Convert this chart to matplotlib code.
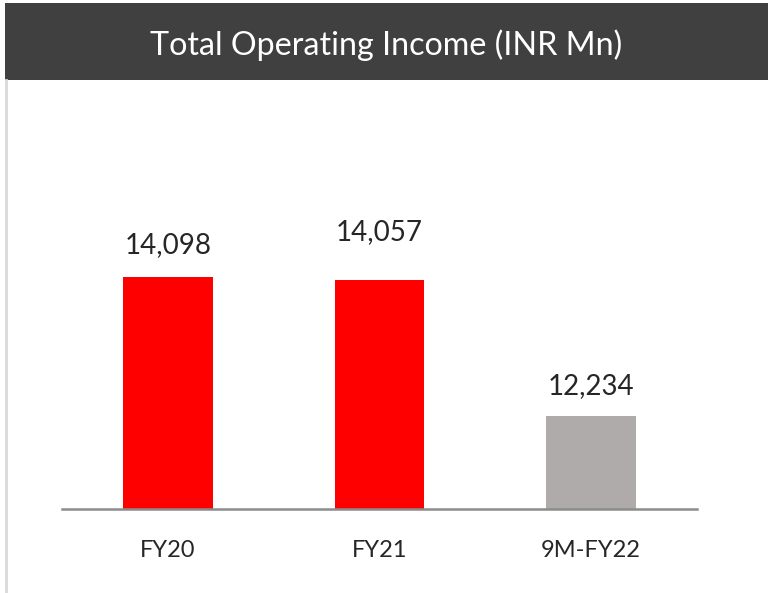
import matplotlib
matplotlib.use("Agg")
import matplotlib.pyplot as plt
from matplotlib.patches import Rectangle
from matplotlib.lines import Line2D

categories = ["FY20", "FY21", "9M-FY22"]
values = [14098, 14057, 12234]
value_labels = ["14,098", "14,057", "12,234"]
title = "Total Operating Income (INR Mn)"

colors = ["#FF0000", "#FF0000", "#AFABAB"]
label_offsets = [31, 48, 30]  # px above bar top

W, H = 768, 593
fig = plt.figure(figsize=(W / 100, H / 100), dpi=100)
plt.rcParams['font.family'] = ['Lato', 'DejaVu Sans']

# title bar
fig.patches.append(Rectangle((5 / W, 1 - 80 / H), 1 - 5 / W, 77 / H,
                             transform=fig.transFigure, facecolor="#404040",
                             edgecolor="none", zorder=0))
fig.text((5 + W) / 2 / W, 1 - 45 / H, title, color="white", fontsize=23.2,
         ha="center", va="center")
# left border
fig.lines.append(Line2D([6 / W, 6 / W], [0, 1 - 80 / H], transform=fig.transFigure,
                        color="#D9D9D9", lw=2))

ax = fig.add_axes([62 / W, 1 - 509 / H, (697 - 62) / W, (509 - 100) / H])
x = range(len(categories))
bars = ax.bar(x, values, width=0.425, color=colors, bottom=0)
ax.set_ylim(11000, 16450)
ax.set_xlim(-0.5, 2.5)
for s in ["top", "right", "left"]:
    ax.spines[s].set_visible(False)
ax.spines["bottom"].set_color("#8C8C8C")
ax.spines["bottom"].set_linewidth(1.8)
ax.set_yticks([])
ax.set_xticks(list(x))
ax.set_xticklabels(categories, fontsize=17, color="#262626")
ax.tick_params(axis="x", length=0, pad=22)

for i, (v, lab) in enumerate(zip(values, value_labels)):
    ax.annotate(lab, (i, v), xytext=(0, label_offsets[i] * 0.72),
                textcoords="offset points", ha="center", va="center",
                fontsize=20, color="#262626")

fig.savefig("out.png", dpi=100)
